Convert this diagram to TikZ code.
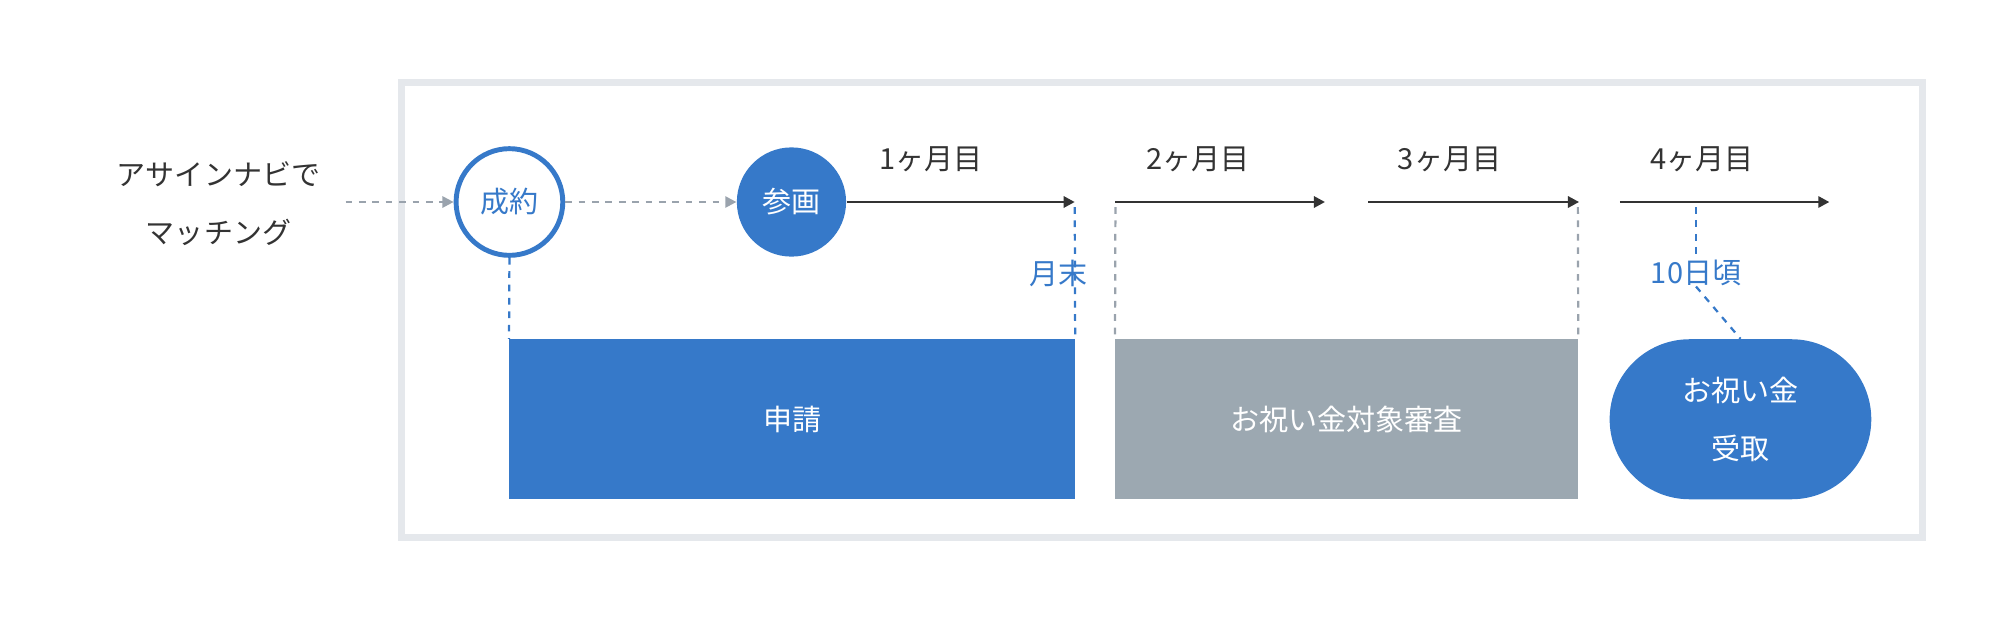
\documentclass[tikz,border=0pt]{standalone}
\usepackage{fontspec}
\setmainfont{Noto Sans CJK JP}
\usetikzlibrary{arrows.meta}
\definecolor{blu}{HTML}{3679C9}
\definecolor{gry}{HTML}{9CA8B1}
\definecolor{frm}{HTML}{E5E8EC}
\definecolor{txt}{HTML}{333333}
\definecolor{dsh}{HTML}{9AA3AD}
\tikzset{
 lbl/.style={font=\fontsize{13}{17}\selectfont, text=txt, inner sep=0},
 bl/.style={font=\fontsize{13}{17}\selectfont, text=blu, inner sep=0},
 tl/.style={-{Triangle[length=5pt,width=5pt]}, draw=txt, line width=1.2pt},
 dl/.style={-{Triangle[length=5pt,width=5pt]}, draw=dsh, dashed, line width=1pt},
 vb/.style={draw=blu, dashed, line width=1pt},
 vg/.style={draw=dsh, dashed, line width=1pt},
}
\begin{document}
\begin{tikzpicture}[x=0.02cm,y=-0.02cm]
\useasboundingbox (0,0) rectangle (1568,488);
\draw[frm, line width=3pt] (316,65) rectangle (1513,423);
\node[lbl] (m1) at (172,137) {アサインナビで};
\node[lbl] (m2) at (172,183) {マッチング};
\coordinate (s0) at (272,159);
\node[circle, draw=blu, fill=white, line width=2.2pt, minimum size=84\pgflinewidth*0+1.68cm, font=\fontsize{13}{17}\selectfont, text=blu] (c1) at (401,159) {成約};
\node[circle, fill=blu, minimum size=1.72cm, font=\fontsize{13}{17}\selectfont, text=white] (c2) at (623,159) {参画};
\draw[dl] (s0) -- (c1);
\draw[dl] (c1) -- (c2);
\coordinate (e1) at (846,159);
\draw[tl] (c2) -- (e1);
\node[lbl] (t1) at (733,125) {1ヶ月目};
\coordinate (a2s) at (878,159); \coordinate (a2e) at (1043,159);
\coordinate (a3s) at (1077,159); \coordinate (a3e) at (1243,159);
\coordinate (a4s) at (1275,159); \coordinate (a4e) at (1440,159);
\draw[tl] (a2s) -- (a2e);
\draw[tl] (a3s) -- (a3e);
\draw[tl] (a4s) -- (a4e);
\node[lbl] (t2) at (943,125) {2ヶ月目};
\node[lbl] (t3) at (1141,125) {3ヶ月目};
\node[lbl] (t4) at (1340,125) {4ヶ月目};
\node[bl] (me) at (833,215) {月末};
\node[bl] (d10) at (1335,215) {10日頃};
\node[fill=blu, minimum width=8.9cm, minimum height=2.52cm, inner sep=0, font=\fontsize{13}{17}\selectfont, text=white] (r1) at (623.5,330) {申請};
\node[fill=gry, minimum width=7.28cm, minimum height=2.52cm, inner sep=0, font=\fontsize{13}{17}\selectfont, text=white] (r2) at (1060,330) {お祝い金対象審査};
\node[fill=blu, rounded corners=1.26cm, minimum width=4.12cm, minimum height=2.52cm, inner sep=0, align=center, font=\fontsize{13}{26}\selectfont, text=white] (r3) at (1370,330) {お祝い金\\受取};
\draw[vb] (c1.south) -- (r1.north west);
\draw[vb] (846,163) -- (r1.north east);
\draw[vg] (878,163) -- (r2.north west);
\draw[vg] (1242,163) -- (r2.north east);
\draw[vb] (1335,163) -- (d10.north);
\draw[vb] (d10.south) -- (r3.north);
\end{tikzpicture}
\end{document}
